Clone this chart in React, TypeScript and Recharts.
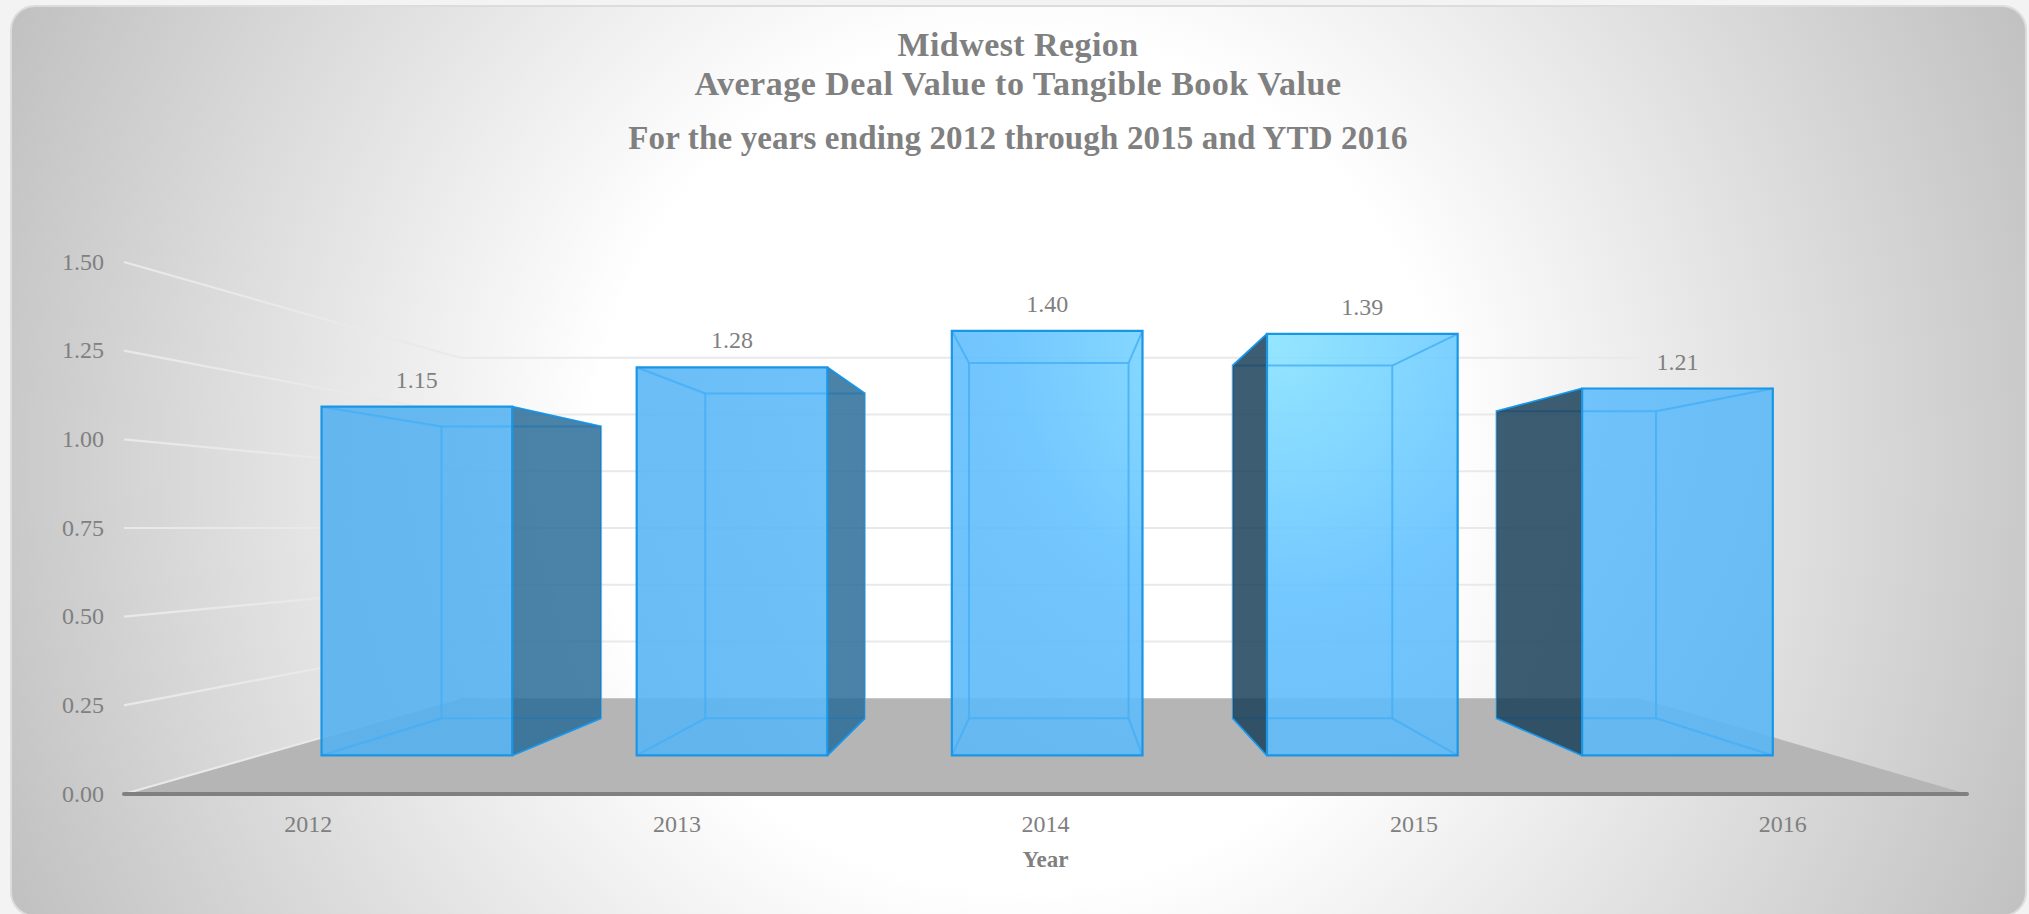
import { BarChart, Bar, XAxis, YAxis, CartesianGrid, LabelList } from "recharts";

const years = ["2012", "2013", "2014", "2015", "2016"];
const dealValues = [1.15, 1.28, 1.4, 1.39, 1.21];
const valueTicks = [0, 0.25, 0.5, 0.75, 1, 1.25, 1.5];
const titleLines = [
  "Midwest Region",
  "Average Deal Value to Tangible Book Value",
  "For the years ending 2012 through 2015 and YTD 2016",
];

const chartData = years.map((year, i) => ({ year, value: dealValues[i] }));

// fake 3D: everything the axes give us lives on the front plane and gets
// pulled towards the vanishing point by a depth factor
const VP_X = 1057;
const VP_Y = 528;
const BACK_WALL = 0.64;
const BAR_FRONT = 0.855;
const BAR_BACK = 0.7155;
const project = (x: number, y: number, s: number): [number, number] => [
  VP_X + (x - VP_X) * s,
  VP_Y + (y - VP_Y) * s,
];
const pts = (list: [number, number][]) => list.map((p) => p.join(",")).join(" ");

const GREY = "#808080";
const FONT = "'Liberation Serif', serif";
const EDGE = "#1a96e6";

// title lines don't share a width ratio with the original font, so each gets its own tweak
const titleStyles = [
  { top: 27, fontSize: 34, letterSpacing: 0.43 },
  { top: 66, fontSize: 34, letterSpacing: 0.5 },
  { top: 120, fontSize: 33, letterSpacing: 0.14 },
];

function WallLine(props: any) {
  const { x1, x2, y1 } = props;
  const [bx1, by] = project(x1, y1, BACK_WALL);
  const [bx2] = project(x2, y1, BACK_WALL);
  const isFloor = y1 > 790;
  return (
    <g key={props.key}>
      {isFloor && (
        <polygon
          points={pts([[x1, y1], [bx1, by], [bx2, by], [x2, y1]])}
          fill="#b5b5b5"
        />
      )}
      <polyline
        points={pts([[x1, y1], [bx1, by], ...(isFloor ? [] : ([[bx2, by]] as [number, number][]))])}
        fill="none"
        stroke="#e9e9e9"
        strokeWidth={2.2}
      />
    </g>
  );
}

function SideFace({ top1, top2, bottom2, bottom1, fill }: any) {
  return (
    <g>
      <polygon points={pts([top1, top2, bottom2, bottom1])} fill={fill} fillOpacity={0.84} />
      <line x1={top1[0]} y1={top1[1]} x2={top2[0]} y2={top2[1]} stroke={EDGE} strokeWidth={1.6} />
      <line x1={bottom1[0]} y1={bottom1[1]} x2={bottom2[0]} y2={bottom2[1]} stroke={EDGE} strokeWidth={1.6} />
    </g>
  );
}

function Box3D(props: any) {
  const { x, y, width, height } = props;
  const l = x;
  const r = x + width;
  const t = y;
  const b = y + height;
  const fTL = project(l, t, BAR_FRONT);
  const fTR = project(r, t, BAR_FRONT);
  const fBL = project(l, b, BAR_FRONT);
  const fBR = project(r, b, BAR_FRONT);
  const bTL = project(l, t, BAR_BACK);
  const bTR = project(r, t, BAR_BACK);
  const bBL = project(l, b, BAR_BACK);
  const bBR = project(r, b, BAR_BACK);

  const showRight = bTR[0] > fTR[0];
  const showLeft = bTL[0] < fTL[0];

  return (
    <g>
      <polygon points={pts([fTL, fTR, fBR, fBL])} fill="url(#barFace)" fillOpacity={0.9} />
      {/* see-through back edges, the dark side goes over them */}
      <g stroke="#45aef6" strokeOpacity={0.8} strokeWidth={2} fill="none">
        <polygon points={pts([bTL, bTR, bBR, bBL])} />
        <line x1={fTL[0]} y1={fTL[1]} x2={bTL[0]} y2={bTL[1]} />
        <line x1={fTR[0]} y1={fTR[1]} x2={bTR[0]} y2={bTR[1]} />
        <line x1={fBL[0]} y1={fBL[1]} x2={bBL[0]} y2={bBL[1]} />
        <line x1={fBR[0]} y1={fBR[1]} x2={bBR[0]} y2={bBR[1]} />
      </g>
      {showRight && (
        <SideFace top1={fTR} top2={bTR} bottom2={bBR} bottom1={fBR} fill="rgb(40,107,151)" />
      )}
      {showLeft && (
        <SideFace top1={fTL} top2={bTL} bottom2={bBL} bottom1={fBL} fill="rgb(24,62,87)" />
      )}
      <polygon points={pts([fTL, fTR, fBR, fBL])} fill="none" stroke={EDGE} strokeWidth={2.2} />
    </g>
  );
}

function ValueLabel(props: any) {
  const { x, y, width, value } = props;
  const [cx, top] = project(x + width / 2, y, BAR_FRONT);
  return (
    <text x={cx} y={top - 19} textAnchor="middle" fontSize={24} fontFamily={FONT} fill={GREY}>
      {Number(value).toFixed(2)}
    </text>
  );
}

export default function App() {
  return (
    <div
      style={{
        position: "absolute",
        left: 0,
        top: 0,
        width: 2029,
        height: 914,
        overflow: "hidden",
        background: "#f3f3f3",
      }}
    >
      <div
        style={{
          position: "absolute",
          left: 10,
          top: 5,
          width: 2017,
          height: 912,
          boxSizing: "border-box",
          borderRadius: 25,
          border: "2.5px solid #dcdcdc",
          background:
            "radial-gradient(circle 1120px at 1008px 455px, #ffffff 0%, #ffffff 38%, #bfbfbf 100%)",
        }}
      />
      {titleLines.map((line, i) => (
        <div
          key={line}
          style={{
            position: "absolute",
            left: 0,
            width: 2036,
            top: titleStyles[i].top,
            textAlign: "center",
            fontFamily: FONT,
            fontWeight: "bold",
            fontSize: titleStyles[i].fontSize,
            letterSpacing: titleStyles[i].letterSpacing,
            lineHeight: "36px",
            color: GREY,
            whiteSpace: "nowrap",
          }}
        >
          {line}
        </div>
      ))}
      <div style={{ position: "absolute", left: 0, top: 0 }}>
        <BarChart
          width={2029}
          height={914}
          data={chartData}
          barCategoryGap="19.75%"
          margin={{ top: 262, right: 62, bottom: 0, left: 0 }}
        >
          <defs>
            <radialGradient id="barFace" gradientUnits="userSpaceOnUse" cx={1270} cy={340} r={885}>
              <stop offset="0%" stopColor="#89e3ff" />
              <stop offset="29%" stopColor="#64c2ff" />
              <stop offset="41%" stopColor="#60bcfa" />
              <stop offset="100%" stopColor="#55b1ef" />
            </radialGradient>
          </defs>
          <CartesianGrid vertical={false} horizontal={WallLine} />
          <XAxis
            dataKey="year"
            height={120}
            tickLine={false}
            axisLine={{ stroke: GREY, strokeWidth: 4, strokeLinecap: "round" }}
            tickMargin={15}
            tick={{ fontSize: 24, fontFamily: FONT, fill: GREY }}
            label={{
              value: "Year",
              position: "insideTop",
              dy: 52,
              fontSize: 23,
              fontWeight: "bold",
              fontFamily: FONT,
              fill: GREY,
            }}
          />
          <YAxis
            width={124}
            domain={[0, 1.5]}
            ticks={valueTicks}
            tickFormatter={(v: number) => v.toFixed(2)}
            axisLine={false}
            tickLine={false}
            tickMargin={14}
            tick={{ fontSize: 24, fontFamily: FONT, fill: GREY, dy: -1 }}
          />
          <Bar dataKey="value" shape={Box3D} isAnimationActive={false}>
            <LabelList dataKey="value" content={ValueLabel} />
          </Bar>
        </BarChart>
      </div>
    </div>
  );
}
